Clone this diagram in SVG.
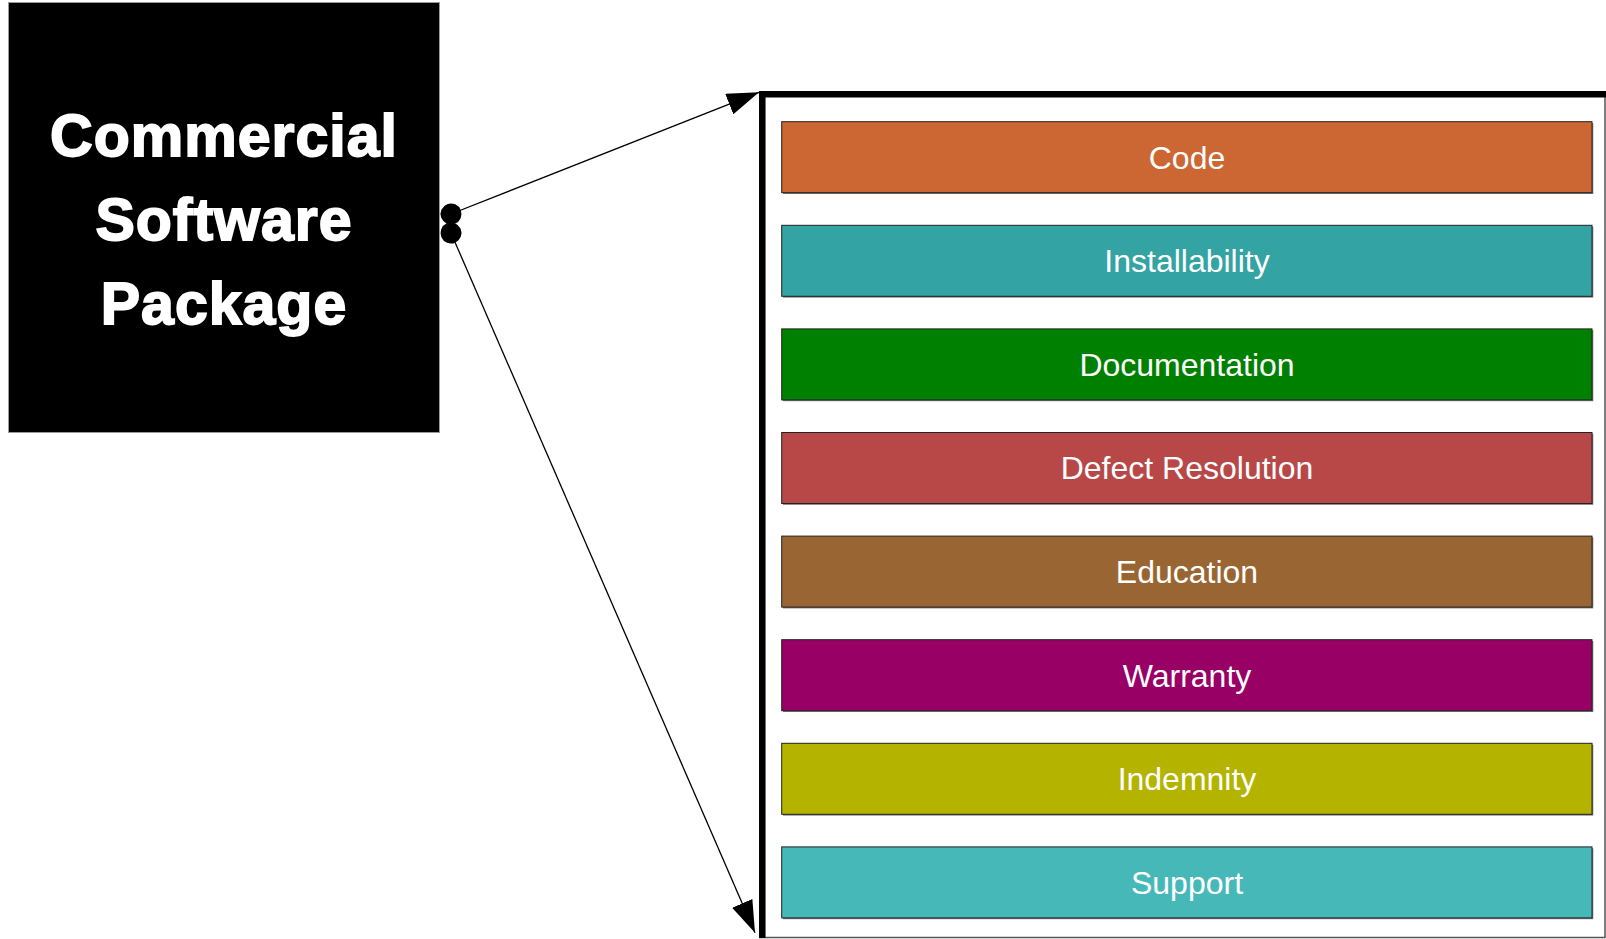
<svg xmlns="http://www.w3.org/2000/svg" width="1606" height="939" viewBox="0 0 1606 939">
<style>
.title{font-family:"Liberation Sans",Arial,sans-serif;font-weight:bold;font-size:59px;fill:#fff;stroke:#fff;stroke-width:1.8;text-anchor:middle;letter-spacing:1px}
.bar{stroke:#222;stroke-width:1}
.shadow{fill:#777}
.lbl{font-family:"Liberation Sans",Arial,sans-serif;font-size:32px;fill:#fff;text-anchor:middle}
.conn{stroke:#000;stroke-width:1.3;fill:none;marker-start:url(#dot);marker-end:url(#arrow)}
</style>
<defs>
<marker id="arrow" markerUnits="userSpaceOnUse" viewBox="0 0 32 22" refX="32" refY="11" markerWidth="32" markerHeight="22" orient="auto">
<path d="M0,0 L32,11 L0,22 z" fill="#000"/>
</marker>
<marker id="dot" markerUnits="userSpaceOnUse" viewBox="0 0 22 22" refX="11" refY="11" markerWidth="22" markerHeight="22" orient="auto">
<circle cx="11" cy="11" r="10.5" fill="#000"/>
</marker>
</defs>
<rect width="1606" height="939" fill="#fff"/>
<g id="package">
<rect x="8.5" y="2.5" width="431" height="430" fill="#000" stroke="#999" stroke-width="1"/>
<text class="title" x="224" y="156">Commercial</text>
<text class="title" x="224" y="240">Software</text>
<text class="title" x="224" y="324">Package</text>
</g>
<g id="frame">
<rect x="760" y="92" width="845" height="845.5" fill="#fff" stroke="#555" stroke-width="1.5"/>
<path d="M762.3,938 V94.3 H1606" fill="none" stroke="#000" stroke-width="6.5"/>
</g>
<g id="code"><rect class="shadow" x="783" y="123" width="810.3" height="71"/><rect class="bar" x="781.7" y="121.7" width="810.3" height="71" fill="#CC6633"/><text class="lbl" x="1187" y="168.5">Code</text></g>
<g id="installability"><rect class="shadow" x="783" y="226.6" width="810.3" height="71"/><rect class="bar" x="781.7" y="225.3" width="810.3" height="71" fill="#33A3A3"/><text class="lbl" x="1187" y="272.1">Installability</text></g>
<g id="documentation"><rect class="shadow" x="783" y="330.2" width="810.3" height="71"/><rect class="bar" x="781.7" y="328.9" width="810.3" height="71" fill="#008000"/><text class="lbl" x="1187" y="375.7">Documentation</text></g>
<g id="defect"><rect class="shadow" x="783" y="433.8" width="810.3" height="71"/><rect class="bar" x="781.7" y="432.5" width="810.3" height="71" fill="#B84848"/><text class="lbl" x="1187" y="479.3">Defect Resolution</text></g>
<g id="education"><rect class="shadow" x="783" y="537.4" width="810.3" height="71"/><rect class="bar" x="781.7" y="536.1" width="810.3" height="71" fill="#996633"/><text class="lbl" x="1187" y="582.9">Education</text></g>
<g id="warranty"><rect class="shadow" x="783" y="641" width="810.3" height="71"/><rect class="bar" x="781.7" y="639.7" width="810.3" height="71" fill="#990066"/><text class="lbl" x="1187" y="686.5">Warranty</text></g>
<g id="indemnity"><rect class="shadow" x="783" y="744.6" width="810.3" height="71"/><rect class="bar" x="781.7" y="743.3" width="810.3" height="71" fill="#B3B300"/><text class="lbl" x="1187" y="790.1">Indemnity</text></g>
<g id="support"><rect class="shadow" x="783" y="848.2" width="810.3" height="71"/><rect class="bar" x="781.7" y="846.9" width="810.3" height="71" fill="#47B8B8"/><text class="lbl" x="1187" y="893.7">Support</text></g>
<g id="connectors">
<line class="conn" x1="451" y1="214" x2="759" y2="92.3"/>
<line class="conn" x1="451" y1="233" x2="755" y2="932.7"/>
</g>
</svg>
